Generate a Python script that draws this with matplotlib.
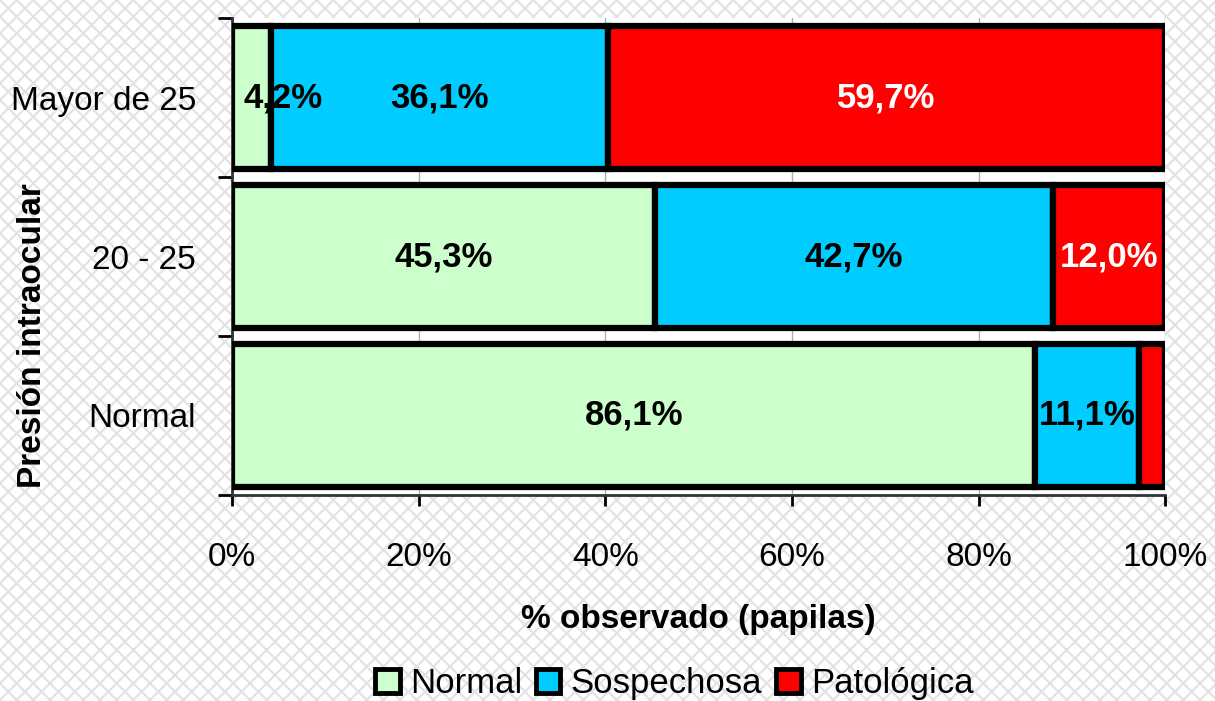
import matplotlib.pyplot as plt
from matplotlib.patches import Patch, Rectangle

# datos (porcentajes por categoria de presion intraocular)
categorias = ['Normal', '20 - 25', 'Mayor de 25']
series = ['Normal', 'Sospechosa', 'Patológica']
normal = [86.1, 45.3, 4.2]
sospechosa = [11.1, 42.7, 36.1]
patologica = [2.8, 12.0, 59.7]
etiquetas = [['86,1%', '45,3%', '4,2%'],
             ['11,1%', '42,7%', '36,1%'],
             ['', '12,0%', '59,7%']]
colores = ['#CCFFCC', '#00CCFF', '#FF0000']
color_texto = ['black', 'black', 'white']

plt.rcParams['font.family'] = ['Liberation Sans', 'DejaVu Sans']
plt.rcParams['hatch.linewidth'] = 1.5
plt.rcParams['hatch.color'] = '#e2e2e2'

fig = plt.figure(figsize=(12.15, 7.01), dpi=100)
fig.patch.set_facecolor('white')
fondo = Rectangle((0, 0), 1, 1, transform=fig.transFigure, facecolor='white',
                  edgecolor='#e2e2e2', hatch='xx', linewidth=0, zorder=-10)
fig.patches.append(fondo)

ax = fig.add_axes([0.191, 0.294, 0.768, 0.680])
ax.set_facecolor('white')

valores = [normal, sospechosa, patologica]
izq = [0, 0, 0]
y = range(len(categorias))
for i, vals in enumerate(valores):
    ax.barh(y, vals, left=izq, height=0.9, color=colores[i], edgecolor='black',
            linewidth=4.5, label=series[i], zorder=3)
    for j, v in enumerate(vals):
        txt = etiquetas[i][j]
        if txt:
            if v < 8:
                ax.text(izq[j] + 1.2, j, txt, ha='left', va='center', fontsize=25,
                        fontweight='bold', color=color_texto[i], zorder=4)
            else:
                ax.text(izq[j] + v / 2, j, txt, ha='center', va='center', fontsize=25,
                        fontweight='bold', color=color_texto[i], zorder=4)
    izq = [a + b for a, b in zip(izq, vals)]

ax.set_xlim(0, 100)
ax.set_ylim(-0.5, 2.5)
ax.set_xticks([0, 20, 40, 60, 80, 100])
ax.set_xticklabels(['0%', '20%', '40%', '60%', '80%', '100%'], fontsize=24)
ax.set_yticks(list(y))
ax.set_yticklabels(categorias, fontsize=24)
ax.set_yticks([-0.5, 0.5, 1.5, 2.5], minor=True)
ax.tick_params(axis='y', which='major', length=0, pad=26)
ax.tick_params(axis='y', which='minor', length=10, width=2, direction='out')
ax.tick_params(axis='x', which='major', length=8, width=2, direction='out', pad=26)
ax.grid(axis='x', color='#b0b0b0', linewidth=1, zorder=0)

for s in ['top', 'right']:
    ax.spines[s].set_visible(False)
ax.spines['left'].set_linewidth(2)
ax.spines['bottom'].set_linewidth(2)
ax.spines['left'].set_color('#333333')
ax.spines['bottom'].set_color('#333333')

ax.set_xlabel('% observado (papilas)', fontsize=24, fontweight='bold', labelpad=22)
ax.set_ylabel('Presión intraocular', fontsize=24, fontweight='bold')
ax.yaxis.set_label_coords(-0.197, 0.335)

handles = [Patch(facecolor=c, edgecolor='black', linewidth=3.5) for c in colores]
fig.legend(handles, series, loc='center', bbox_to_anchor=(0.555, 0.025), ncol=3,
           frameon=False, fontsize=25, handlelength=0.7, handleheight=0.7,
           handletextpad=0.3, columnspacing=0.4)

fig.savefig('out.png', dpi=100)
